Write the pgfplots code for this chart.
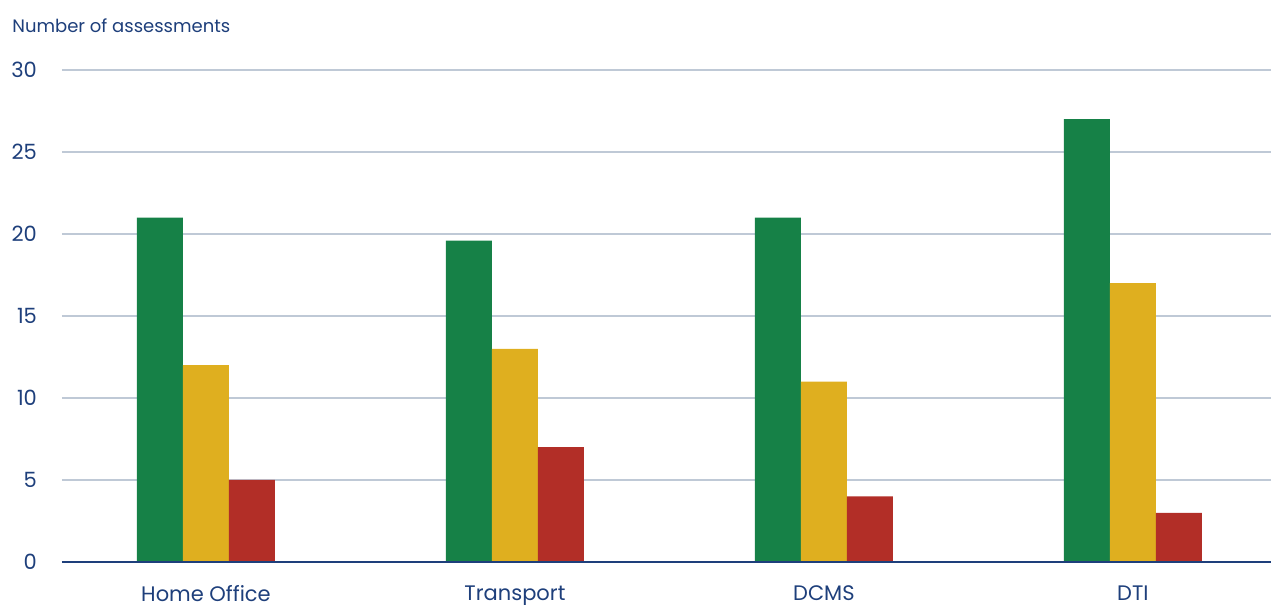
\documentclass[border=0pt]{standalone}
\usepackage{fontspec}
\setmainfont{Poppins}
\usepackage{pgfplots}
\pgfplotsset{compat=1.18}
\definecolor{navy}{HTML}{1E3F7B}
\definecolor{gridc}{HTML}{BFC9D6}
\definecolor{good}{HTML}{168147}
\definecolor{mid}{HTML}{DFAF1F}
\definecolor{bad}{HTML}{B22E27}
\begin{document}
\begin{tikzpicture}[font=\fontsize{9}{11}\selectfont]
\useasboundingbox (-31pt,-21.5pt) rectangle (604.5pt,281pt);
\begin{axis}[
  scale only axis,
  width=604.5pt, height=246pt,
  xmin=-0.466, xmax=3.447,
  ymin=0, ymax=30,
  ytick={0,5,10,15,20,25,30},
  xtick={0,1,2,3},
  xticklabels={Home Office,Transport,DCMS,DTI},
  axis line style={draw=none},
  tick style={draw=none},
  ymajorgrids,
  major grid style={gridc, line width=0.75pt},
  ticklabel style={text=navy, font=\fontsize{10.5}{12}\selectfont},
  yticklabel style={anchor=east, xshift=-9pt},
  xticklabel style={anchor=north, inner sep=0pt, yshift=-7.5pt},
  /pgf/number format/assume math mode=true,
  ybar, bar width=0.1489,
  every axis plot/.append style={draw=none},
  clip=false,
]
\addplot[fill=good, bar shift=-0.1489] coordinates {(0,21) (1,19.6) (2,21) (3,27)};
\addplot[fill=mid, bar shift=0] coordinates {(0,12) (1,13) (2,11) (3,17)};
\addplot[fill=bad, bar shift=0.1489] coordinates {(0,5) (1,7) (2,4) (3,3)};
\draw[navy, line width=0.75pt] (rel axis cs:0,0) -- (rel axis cs:1,0);
\end{axis}
\node[anchor=base west, inner sep=0pt, text=navy] at (-25pt,264.5pt) {Number of assessments};
\end{tikzpicture}
\end{document}
